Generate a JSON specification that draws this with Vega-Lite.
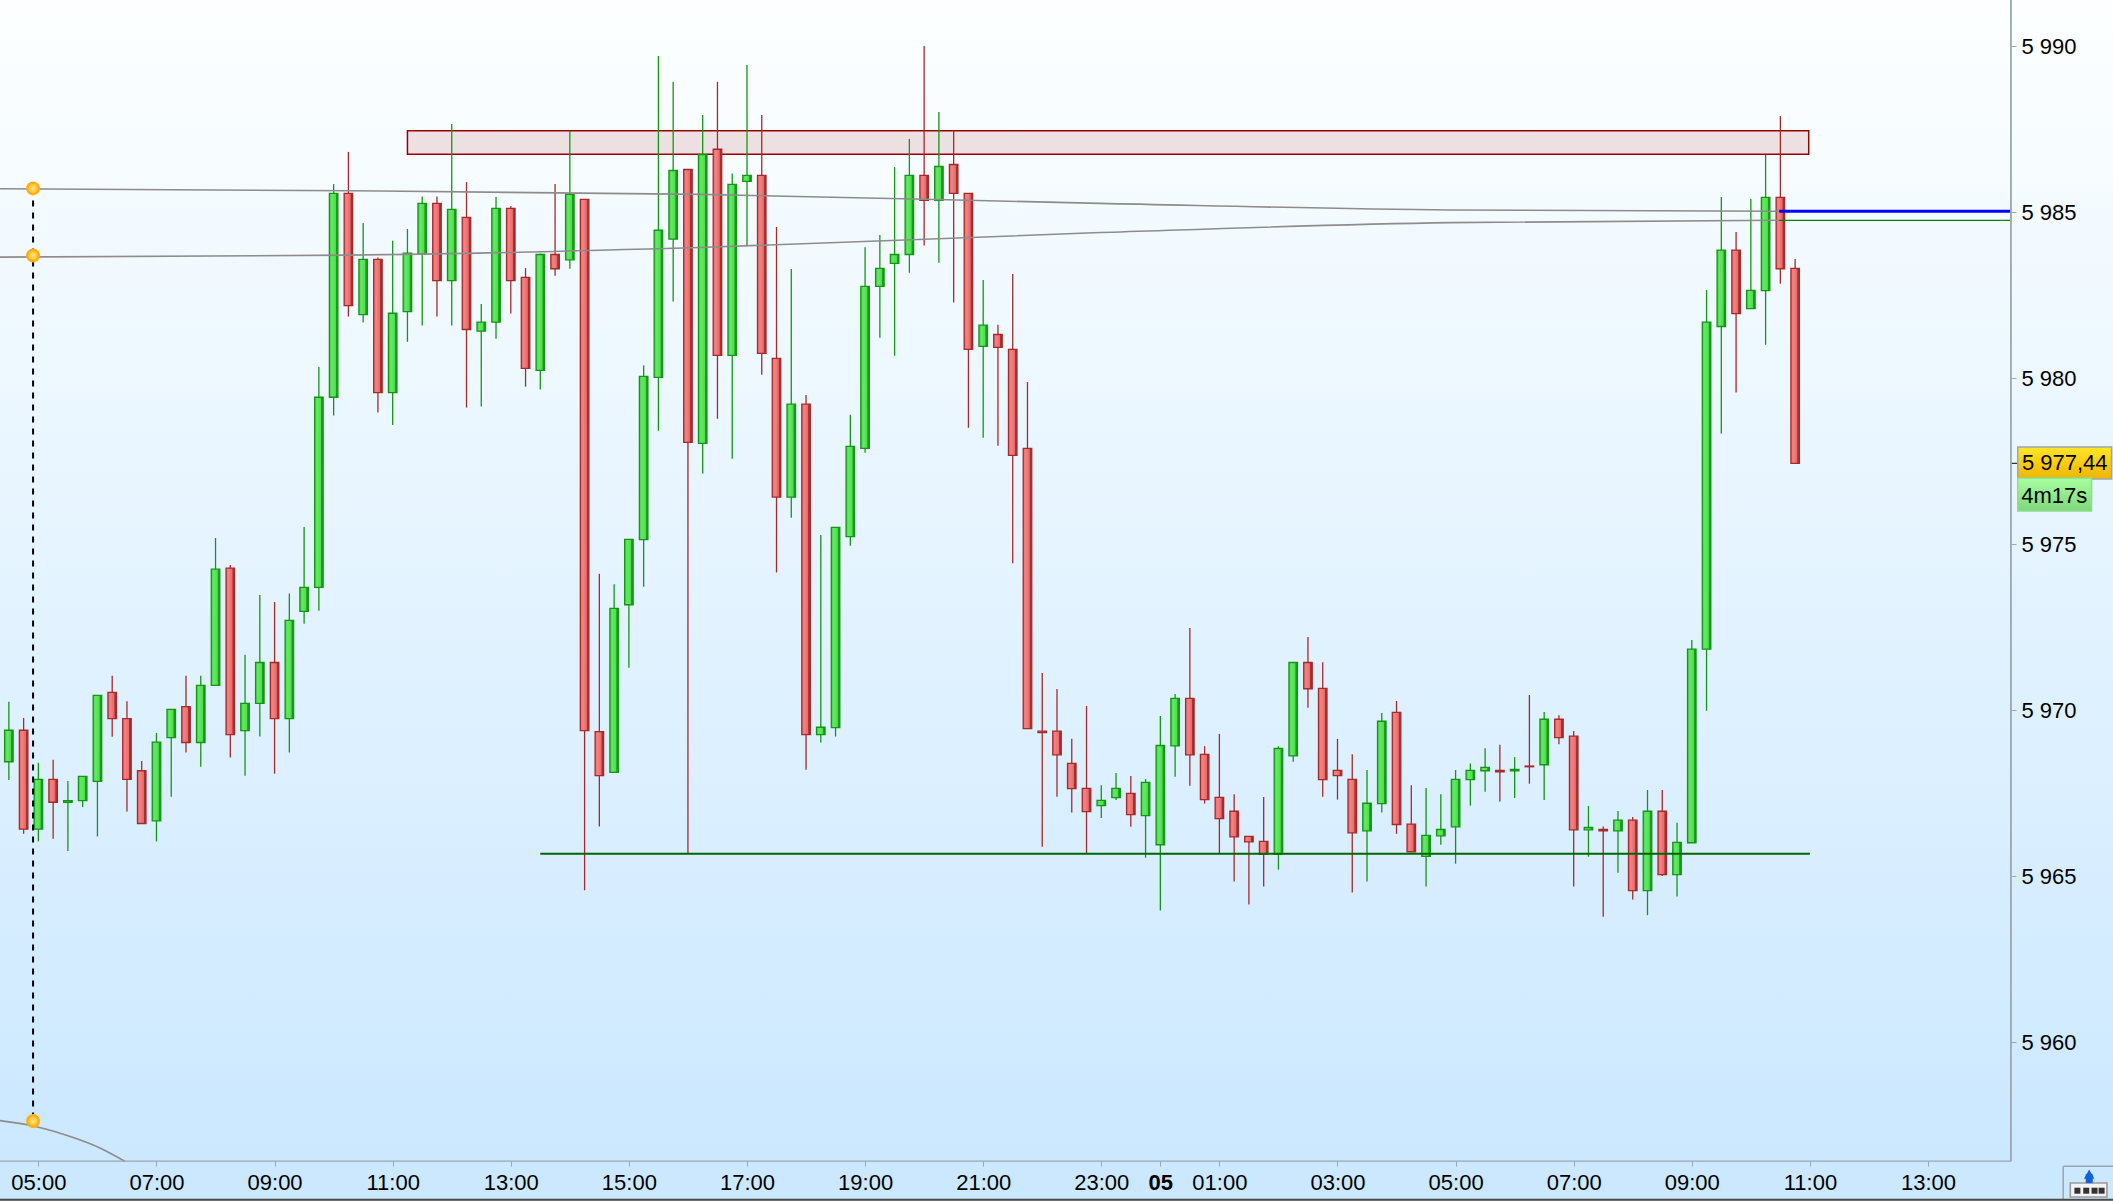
{
"$schema":"https://vega.github.io/schema/vega-lite/v6.json",
"width":2113,"height":1201,"padding":0,"autosize":{"type":"none"},
"background":"#ffffff",
"config":{"view":{"stroke":null},"axis":{"title":null},"font":"Liberation Sans"},
"datasets":{
"bg":[{"hour":4.35,"hour2":40.133,"price":5991.395,"price2":5955.22}],
"zone":[{"hour":11.25,"hour2":34.98,"price":5987.46,"price2":5986.75}],
"candles":[
{"hour":4.5,"open":5968.45,"high":5970.26,"low":5967.90,"close":5969.40},
{"hour":4.75,"open":5969.40,"high":5969.77,"low":5966.28,"close":5966.42},
{"hour":5,"open":5966.42,"high":5968.42,"low":5966.05,"close":5967.92},
{"hour":5.25,"open":5967.92,"high":5968.51,"low":5966.13,"close":5967.23},
{"hour":5.5,"open":5967.23,"high":5967.87,"low":5965.76,"close":5967.28},
{"hour":5.75,"open":5967.28,"high":5968.01,"low":5967.09,"close":5968.01},
{"hour":6,"open":5967.86,"high":5970.45,"low":5966.20,"close":5970.45},
{"hour":6.25,"open":5970.54,"high":5971.04,"low":5969.20,"close":5969.75},
{"hour":6.5,"open":5969.75,"high":5970.27,"low":5966.95,"close":5967.92},
{"hour":6.75,"open":5968.18,"high":5968.47,"low":5966.59,"close":5966.59},
{"hour":7,"open":5966.67,"high":5969.32,"low":5966.05,"close":5969.04},
{"hour":7.25,"open":5969.18,"high":5970.03,"low":5967.40,"close":5970.03},
{"hour":7.5,"open":5970.11,"high":5971.04,"low":5968.73,"close":5969.03},
{"hour":7.75,"open":5969.03,"high":5971.04,"low":5968.30,"close":5970.75},
{"hour":8,"open":5970.75,"high":5975.19,"low":5970.75,"close":5974.25},
{"hour":8.25,"open":5974.28,"high":5974.38,"low":5968.58,"close":5969.27},
{"hour":8.5,"open":5969.39,"high":5971.67,"low":5968.03,"close":5970.21},
{"hour":8.75,"open":5970.21,"high":5973.47,"low":5969.21,"close":5971.44},
{"hour":9,"open":5971.44,"high":5973.26,"low":5968.09,"close":5969.75},
{"hour":9.25,"open":5969.75,"high":5973.52,"low":5968.73,"close":5972.71},
{"hour":9.5,"open":5972.98,"high":5975.52,"low":5972.61,"close":5973.70},
{"hour":9.75,"open":5973.70,"high":5980.34,"low":5973.00,"close":5979.43},
{"hour":10,"open":5979.43,"high":5985.85,"low":5978.88,"close":5985.57},
{"hour":10.25,"open":5985.57,"high":5986.82,"low":5981.86,"close":5982.19},
{"hour":10.5,"open":5981.92,"high":5984.68,"low":5981.68,"close":5983.58},
{"hour":10.75,"open":5983.58,"high":5983.64,"low":5978.97,"close":5979.57},
{"hour":11,"open":5979.57,"high":5984.14,"low":5978.59,"close":5981.96},
{"hour":11.25,"open":5982.01,"high":5984.50,"low":5981.10,"close":5983.77},
{"hour":11.5,"open":5983.74,"high":5985.48,"low":5981.59,"close":5985.27},
{"hour":11.75,"open":5985.27,"high":5985.48,"low":5981.86,"close":5982.94},
{"hour":12,"open":5982.94,"high":5987.66,"low":5981.59,"close":5985.09},
{"hour":12.25,"open":5984.85,"high":5985.91,"low":5979.12,"close":5981.47},
{"hour":12.5,"open":5981.42,"high":5982.24,"low":5979.15,"close":5981.69},
{"hour":12.75,"open":5981.69,"high":5985.46,"low":5981.19,"close":5985.12},
{"hour":13,"open":5985.12,"high":5985.19,"low":5981.95,"close":5982.94},
{"hour":13.25,"open":5983.04,"high":5983.32,"low":5979.75,"close":5980.30},
{"hour":13.5,"open":5980.24,"high":5983.76,"low":5979.66,"close":5983.73},
{"hour":13.75,"open":5983.73,"high":5985.85,"low":5983.09,"close":5983.30},
{"hour":14,"open":5983.57,"high":5987.46,"low":5983.30,"close":5985.54},
{"hour":14.25,"open":5985.39,"high":5985.39,"low":5964.58,"close":5969.39},
{"hour":14.5,"open":5969.36,"high":5974.11,"low":5966.50,"close":5968.03},
{"hour":14.75,"open":5968.13,"high":5973.80,"low":5968.13,"close":5973.07},
{"hour":15,"open":5973.18,"high":5975.15,"low":5971.28,"close":5975.15},
{"hour":15.25,"open":5975.14,"high":5980.39,"low":5973.72,"close":5980.06},
{"hour":15.5,"open":5980.03,"high":5989.71,"low":5978.42,"close":5984.46},
{"hour":15.75,"open":5984.19,"high":5988.93,"low":5982.31,"close":5986.26},
{"hour":16,"open":5986.29,"high":5986.29,"low":5965.69,"close":5978.07},
{"hour":16.25,"open":5978.04,"high":5987.93,"low":5977.13,"close":5986.74},
{"hour":16.5,"open":5986.90,"high":5988.93,"low":5978.78,"close":5980.69},
{"hour":16.75,"open":5980.69,"high":5986.17,"low":5977.58,"close":5985.84},
{"hour":17,"open":5985.93,"high":5989.44,"low":5984.00,"close":5986.11},
{"hour":17.25,"open":5986.11,"high":5987.93,"low":5980.11,"close":5980.75},
{"hour":17.5,"open":5980.60,"high":5984.56,"low":5974.15,"close":5976.42},
{"hour":17.75,"open":5976.42,"high":5983.29,"low":5975.80,"close":5979.22},
{"hour":18,"open":5979.22,"high":5979.50,"low":5968.21,"close":5969.27},
{"hour":18.25,"open":5969.27,"high":5975.28,"low":5969.03,"close":5969.49},
{"hour":18.5,"open":5969.48,"high":5975.51,"low":5969.21,"close":5975.51},
{"hour":18.75,"open":5975.23,"high":5978.90,"low":5974.96,"close":5977.95},
{"hour":19,"open":5977.89,"high":5983.95,"low":5977.76,"close":5982.77},
{"hour":19.25,"open":5982.77,"high":5984.32,"low":5981.22,"close":5983.31},
{"hour":19.5,"open":5983.46,"high":5986.36,"low":5980.68,"close":5983.73},
{"hour":19.75,"open":5983.73,"high":5987.21,"low":5983.18,"close":5986.11},
{"hour":20,"open":5986.11,"high":5990.01,"low":5984.00,"close":5985.36},
{"hour":20.25,"open":5985.36,"high":5988.02,"low":5983.48,"close":5986.38},
{"hour":20.5,"open":5986.44,"high":5987.48,"low":5982.28,"close":5985.57},
{"hour":20.75,"open":5985.57,"high":5985.57,"low":5978.51,"close":5980.87},
{"hour":21,"open":5980.96,"high":5982.96,"low":5978.21,"close":5981.60},
{"hour":21.25,"open":5981.32,"high":5981.61,"low":5977.97,"close":5980.93},
{"hour":21.5,"open":5980.87,"high":5983.14,"low":5974.43,"close":5977.68},
{"hour":21.75,"open":5977.89,"high":5979.89,"low":5969.45,"close":5969.45},
{"hour":22,"open":5969.37,"high":5971.12,"low":5965.89,"close":5969.33},
{"hour":22.25,"open":5969.37,"high":5970.64,"low":5967.40,"close":5968.66},
{"hour":22.5,"open":5968.40,"high":5969.14,"low":5966.92,"close":5967.64},
{"hour":22.75,"open":5967.65,"high":5970.13,"low":5965.68,"close":5966.95},
{"hour":23,"open":5967.13,"high":5967.74,"low":5966.76,"close":5967.29},
{"hour":23.25,"open":5967.37,"high":5968.11,"low":5967.30,"close":5967.65},
{"hour":23.5,"open":5967.50,"high":5968.02,"low":5966.49,"close":5966.86},
{"hour":23.75,"open":5966.83,"high":5967.93,"low":5965.56,"close":5967.83},
{"hour":24,"open":5965.95,"high":5969.83,"low":5963.97,"close":5968.94},
{"hour":24.25,"open":5968.93,"high":5970.49,"low":5968.00,"close":5970.36},
{"hour":24.5,"open":5970.36,"high":5972.48,"low":5967.73,"close":5968.66},
{"hour":24.75,"open":5968.67,"high":5968.92,"low":5967.19,"close":5967.31},
{"hour":25,"open":5967.38,"high":5969.29,"low":5965.68,"close":5966.74},
{"hour":25.25,"open":5966.96,"high":5967.47,"low":5964.84,"close":5966.19},
{"hour":25.5,"open":5966.20,"high":5966.20,"low":5964.15,"close":5966.04},
{"hour":25.75,"open":5966.05,"high":5967.39,"low":5964.69,"close":5965.67},
{"hour":26,"open":5965.67,"high":5968.92,"low":5965.20,"close":5968.85},
{"hour":26.25,"open":5968.63,"high":5971.44,"low":5968.45,"close":5971.44},
{"hour":26.5,"open":5971.44,"high":5972.21,"low":5970.08,"close":5970.65},
{"hour":26.75,"open":5970.66,"high":5971.45,"low":5967.40,"close":5967.91},
{"hour":27,"open":5968.19,"high":5969.14,"low":5967.31,"close":5968.03},
{"hour":27.25,"open":5967.92,"high":5968.68,"low":5964.51,"close":5966.31},
{"hour":27.5,"open":5966.37,"high":5968.20,"low":5964.84,"close":5967.20},
{"hour":27.75,"open":5967.19,"high":5969.92,"low":5966.92,"close":5969.67},
{"hour":28,"open":5969.94,"high":5970.28,"low":5966.28,"close":5966.56},
{"hour":28.25,"open":5966.57,"high":5967.74,"low":5965.74,"close":5965.74},
{"hour":28.5,"open":5965.60,"high":5967.66,"low":5964.69,"close":5966.23},
{"hour":28.75,"open":5966.22,"high":5967.47,"low":5965.95,"close":5966.41},
{"hour":29,"open":5966.49,"high":5968.20,"low":5965.38,"close":5967.92},
{"hour":29.25,"open":5967.91,"high":5968.40,"low":5967.13,"close":5968.19},
{"hour":29.5,"open":5968.18,"high":5968.86,"low":5967.55,"close":5968.28},
{"hour":29.75,"open":5968.19,"high":5968.96,"low":5967.25,"close":5968.15},
{"hour":30,"open":5968.18,"high":5968.59,"low":5967.36,"close":5968.22},
{"hour":30.25,"open":5968.32,"high":5970.46,"low":5967.79,"close":5968.30},
{"hour":30.5,"open":5968.36,"high":5969.95,"low":5967.30,"close":5969.73},
{"hour":30.75,"open":5969.73,"high":5969.85,"low":5968.98,"close":5969.18},
{"hour":31,"open":5969.22,"high":5969.38,"low":5964.69,"close":5966.40},
{"hour":31.25,"open":5966.40,"high":5967.12,"low":5965.59,"close":5966.47},
{"hour":31.5,"open":5966.41,"high":5966.50,"low":5963.78,"close":5966.37},
{"hour":31.75,"open":5966.37,"high":5966.97,"low":5965.11,"close":5966.69},
{"hour":32,"open":5966.69,"high":5966.79,"low":5964.30,"close":5964.57},
{"hour":32.25,"open":5964.57,"high":5967.60,"low":5963.83,"close":5966.96},
{"hour":32.5,"open":5966.96,"high":5967.60,"low":5965.01,"close":5965.05},
{"hour":32.75,"open":5965.05,"high":5966.61,"low":5964.39,"close":5966.02},
{"hour":33,"open":5966.01,"high":5972.12,"low":5966.01,"close":5971.84},
{"hour":33.25,"open":5971.84,"high":5982.66,"low":5969.99,"close":5981.69},
{"hour":33.5,"open":5981.56,"high":5985.46,"low":5978.34,"close":5983.86},
{"hour":33.75,"open":5983.86,"high":5984.41,"low":5979.57,"close":5981.95},
{"hour":34,"open":5982.10,"high":5985.40,"low":5982.10,"close":5982.65},
{"hour":34.25,"open":5982.64,"high":5986.73,"low":5981.01,"close":5985.45},
{"hour":34.5,"open":5985.45,"high":5987.90,"low":5982.85,"close":5983.30},
{"hour":34.75,"open":5983.31,"high":5983.59,"low":5977.44,"close":5977.44}
],
"curves":[
{"series":"upper","hour":4.35,"price":5985.71},{"series":"upper","hour":10.28,"price":5985.65},{"series":"upper","hour":16.2,"price":5985.54},{"series":"upper","hour":22.98,"price":5985.27},{"series":"upper","hour":28.91,"price":5985.07},{"series":"upper","hour":34.48,"price":5985.03},
{"series":"lower","hour":4.35,"price":5983.65},{"series":"lower","hour":10.28,"price":5983.71},{"series":"lower","hour":16.2,"price":5983.94},{"series":"lower","hour":22.98,"price":5984.39},{"series":"lower","hour":28.91,"price":5984.69},{"series":"lower","hour":34.48,"price":5984.76},
{"series":"arc","hour":4.35,"price":5957.64},{"series":"arc","hour":4.91,"price":5957.48},{"series":"arc","hour":5.64,"price":5957.10},{"series":"arc","hour":6.05,"price":5956.81},{"series":"arc","hour":6.47,"price":5956.41}
],
"anchors":[{"hour":4.91,"price":5985.72},{"hour":4.91,"price":5983.70},{"hour":4.91,"price":5957.63}],
"levels":[
{"name":"support","hour":13.5,"hour2":35,"price":5965.68},
{"name":"last","hour":34.48,"hour2":38.405,"price":5985.03},
{"name":"open","hour":34.48,"hour2":38.405,"price":5984.76}
],
"frame":[
{"hour":38.405,"hour2":38.405,"price":5991.395,"price2":5956.42,"w":1.8},
{"hour":4.35,"hour2":38.405,"price":5956.42,"price2":5956.42,"w":1.3}
],
"tags":[
{"label":"5 977,44","hour":38.52,"hour2":40.11,"price":5977.93,"price2":5976.97,"th":38.59,"tp":5977.44},
{"label":"4m17s","hour":38.52,"hour2":39.77,"price":5977.0,"price2":5976.0,"th":38.58,"tp":5976.45}
],
"lastTick":[{"hour":38.42,"hour2":38.51,"price":5977.44}],
"button":[
{"hour":39.29,"hour2":40.133,"price":5956.27,"price2":5956.27},
{"hour":39.29,"hour2":39.29,"price":5956.27,"price2":5955.25}
],
"baseLine":[{"hour":4.35,"hour2":40.133,"price":5955.26}],
"box":[{"hour":39.41,"hour2":40.03,"price":5955.76,"price2":5955.34}],
"dots":[{"hour":39.53,"price":5955.53},{"hour":39.68,"price":5955.53},{"hour":39.82,"price":5955.53},{"hour":39.94,"price":5955.53}],
"arrow":[{"hour":39.73,"price":5956.03,"price2":5955.76}]
},
"layer":[
{"data":{"name":"bg"},
 "mark":{"type":"rect","fill":{"gradient":"linear","x1":0,"y1":0,"x2":0,"y2":1,"stops":[{"offset":0,"color":"#fdffff"},{"offset":0.5,"color":"#e3f3ff"},{"offset":0.97,"color":"#cbe8ff"},{"offset":1,"color":"#cbe8ff"}]}},
 "encoding":{
  "x":{"field":"hour","type":"quantitative","scale":{"domain":[4.35,40.133],"nice":false,"zero":false,"padding":0},
   "axis":{"title":null,"orient":"bottom","offset":-40,"zindex":1,"domain":false,"grid":false,"values":[5,7,9,11,13,15,17,19,21,23,24,25,27,29,31,33,35,37],"tickColor":"#9aa7b0","tickSize":5,"tickWidth":1,"labelColor":"#000000","labelFont":"Liberation Sans","labelFontSize":22,"labelPadding":6,"labelOverlap":false,"labelFlush":false,"labelFontWeight":{"expr":"datum.value==24?'bold':'normal'"},"labelExpr":"datum.value==24?'05':format(datum.value%24,'02d')+':00'"}},
  "x2":{"field":"hour2"},
  "y":{"field":"price","type":"quantitative","scale":{"domain":[5955.22,5991.395],"nice":false,"zero":false},
   "axis":{"title":null,"orient":"right","offset":-102,"zindex":1,"domain":false,"grid":false,"values":[5960,5965,5970,5975,5980,5985,5990],"tickColor":"#9aa7b0","tickSize":5,"tickWidth":1,"labelColor":"#000000","labelFont":"Liberation Sans","labelFontSize":22,"labelPadding":5,"labelOverlap":false,"labelFlush":false,"labelExpr":"'5 '+format(datum.value-5000,'03d')"}},
  "y2":{"field":"price2"}}},
{"data":{"name":"zone"},
 "mark":{"type":"rect","fill":"#990000","fillOpacity":0.11,"stroke":"#990000","strokeWidth":1.5},
 "encoding":{"x":{"field":"hour","type":"quantitative"},"x2":{"field":"hour2"},"y":{"field":"price","type":"quantitative"},"y2":{"field":"price2"}}},
{"data":{"name":"candles"},"transform":[{"filter":"datum.close>=datum.open"}],
 "mark":{"type":"rule","stroke":"#149614","strokeWidth":1.3},
 "encoding":{"x":{"field":"hour","type":"quantitative"},"y":{"field":"low","type":"quantitative"},"y2":{"field":"high"}}},
{"data":{"name":"candles"},"transform":[{"filter":"datum.close<datum.open"}],
 "mark":{"type":"rule","stroke":"#a52a2a","strokeWidth":1.3},
 "encoding":{"x":{"field":"hour","type":"quantitative"},"y":{"field":"low","type":"quantitative"},"y2":{"field":"high"}}},
{"data":{"name":"candles"},"transform":[{"filter":"datum.close>=datum.open"}],
 "mark":{"type":"bar","size":8.5,"stroke":"#149614","strokeWidth":1.3,"fill":{"gradient":"linear","x1":0,"y1":0,"x2":1,"y2":0,"stops":[{"offset":0,"color":"#45d445"},{"offset":0.3,"color":"#64e964"},{"offset":0.72,"color":"#50dc50"},{"offset":0.8,"color":"#18a018"},{"offset":1,"color":"#149614"}]}},
 "encoding":{"x":{"field":"hour","type":"quantitative"},"y":{"field":"open","type":"quantitative"},"y2":{"field":"close"}}},
{"data":{"name":"candles"},"transform":[{"filter":"datum.close<datum.open"}],
 "mark":{"type":"bar","size":8.5,"stroke":"#a52a2a","strokeWidth":1.3,"fill":{"gradient":"linear","x1":0,"y1":0,"x2":1,"y2":0,"stops":[{"offset":0,"color":"#ea6c6c"},{"offset":0.3,"color":"#f58282"},{"offset":0.72,"color":"#e36a6a"},{"offset":0.8,"color":"#a93030"},{"offset":1,"color":"#a52a2a"}]}},
 "encoding":{"x":{"field":"hour","type":"quantitative"},"y":{"field":"open","type":"quantitative"},"y2":{"field":"close"}}},
{"data":{"name":"curves"},
 "mark":{"type":"line","stroke":"#8c8c8c","strokeWidth":1.6,"clip":true,"interpolate":"monotone"},
 "encoding":{"x":{"field":"hour","type":"quantitative"},"y":{"field":"price","type":"quantitative"},"detail":{"field":"series"}}},
{"data":{"name":"levels"},"transform":[{"filter":"datum.name=='support'"}],
 "mark":{"type":"rule","stroke":"#006400","strokeWidth":2},
 "encoding":{"x":{"field":"hour","type":"quantitative"},"x2":{"field":"hour2"},"y":{"field":"price","type":"quantitative"}}},
{"data":{"name":"levels"},"transform":[{"filter":"datum.name=='open'"}],
 "mark":{"type":"rule","stroke":"#008000","strokeWidth":1.2},
 "encoding":{"x":{"field":"hour","type":"quantitative"},"x2":{"field":"hour2"},"y":{"field":"price","type":"quantitative"}}},
{"data":{"name":"levels"},"transform":[{"filter":"datum.name=='last'"}],
 "mark":{"type":"rule","stroke":"#0000ff","strokeWidth":3},
 "encoding":{"x":{"field":"hour","type":"quantitative"},"x2":{"field":"hour2"},"y":{"field":"price","type":"quantitative"}}},
{"data":{"name":"anchors"},"transform":[{"aggregate":[{"op":"max","field":"price","as":"top"},{"op":"min","field":"price","as":"bottom"}],"groupby":["hour"]}],
 "mark":{"type":"rule","stroke":"#000000","strokeWidth":2,"strokeDash":[6,6]},
 "encoding":{"x":{"field":"hour","type":"quantitative"},"y":{"field":"top","type":"quantitative"},"y2":{"field":"bottom"}}},
{"data":{"name":"anchors"},
 "mark":{"type":"point","shape":"circle","filled":true,"size":135,"fill":{"gradient":"radial","stops":[{"offset":0,"color":"#ffe27e"},{"offset":1,"color":"#ffba22"}]},"stroke":"#fbaf14","strokeWidth":2.4,"opacity":1},
 "encoding":{"x":{"field":"hour","type":"quantitative"},"y":{"field":"price","type":"quantitative"}}},
{"data":{"name":"frame"},
 "mark":{"type":"rule","stroke":"#9aa7b0"},
 "encoding":{"x":{"field":"hour","type":"quantitative"},"x2":{"field":"hour2"},"y":{"field":"price","type":"quantitative"},"y2":{"field":"price2"},"strokeWidth":{"field":"w","type":"quantitative","scale":null}}},
{"data":{"name":"lastTick"},
 "mark":{"type":"rule","stroke":"#000000","strokeWidth":1},
 "encoding":{"x":{"field":"hour","type":"quantitative"},"x2":{"field":"hour2"},"y":{"field":"price","type":"quantitative"}}},
{"data":{"name":"tags"},"transform":[{"filter":"datum.label=='5 977,44'"}],
 "mark":{"type":"rect","stroke":"#9aa7b0","strokeWidth":1.5,"fill":{"gradient":"linear","x1":0,"y1":0,"x2":0,"y2":1,"stops":[{"offset":0,"color":"#ffe625"},{"offset":1,"color":"#efb400"}]}},
 "encoding":{"x":{"field":"hour","type":"quantitative"},"x2":{"field":"hour2"},"y":{"field":"price","type":"quantitative"},"y2":{"field":"price2"}}},
{"data":{"name":"tags"},"transform":[{"filter":"datum.label=='4m17s'"}],
 "mark":{"type":"rect","stroke":"#8fdc8a","strokeWidth":1.5,"fill":{"gradient":"linear","x1":0,"y1":0,"x2":0,"y2":1,"stops":[{"offset":0,"color":"#a6ffa0"},{"offset":1,"color":"#80d67a"}]}},
 "encoding":{"x":{"field":"hour","type":"quantitative"},"x2":{"field":"hour2"},"y":{"field":"price","type":"quantitative"},"y2":{"field":"price2"}}},
{"data":{"name":"tags"},
 "mark":{"type":"text","align":"left","baseline":"middle","font":"Liberation Sans","fontSize":22,"color":"#000000"},
 "encoding":{"x":{"field":"th","type":"quantitative"},"y":{"field":"tp","type":"quantitative"},"text":{"field":"label"}}},
{"data":{"name":"button"},
 "mark":{"type":"rule","stroke":"#9aa7b0","strokeWidth":1.5},
 "encoding":{"x":{"field":"hour","type":"quantitative"},"x2":{"field":"hour2"},"y":{"field":"price","type":"quantitative"},"y2":{"field":"price2"}}},
{"data":{"name":"box"},
 "mark":{"type":"rect","fill":"#f4f4f4","stroke":"#9a9a9a","strokeWidth":1.6},
 "encoding":{"x":{"field":"hour","type":"quantitative"},"x2":{"field":"hour2"},"y":{"field":"price","type":"quantitative"},"y2":{"field":"price2"}}},
{"data":{"name":"dots"},
 "mark":{"type":"point","shape":"square","filled":true,"size":36,"color":"#333333","opacity":1},
 "encoding":{"x":{"field":"hour","type":"quantitative"},"y":{"field":"price","type":"quantitative"}}},
{"data":{"name":"arrow"},
 "mark":{"type":"rule","stroke":"#1560d8","strokeWidth":7},
 "encoding":{"x":{"field":"hour","type":"quantitative"},"y":{"field":"price","type":"quantitative"},"y2":{"field":"price2"}}},
{"data":{"name":"arrow"},
 "mark":{"type":"point","shape":"triangle-up","filled":true,"size":110,"color":"#1560d8","opacity":1},
 "encoding":{"x":{"field":"hour","type":"quantitative"},"y":{"field":"price","type":"quantitative"}}},
{"data":{"name":"baseLine"},
 "mark":{"type":"rule","stroke":"#4a4a4a","strokeWidth":2},
 "encoding":{"x":{"field":"hour","type":"quantitative"},"x2":{"field":"hour2"},"y":{"field":"price","type":"quantitative"}}}
]
}
